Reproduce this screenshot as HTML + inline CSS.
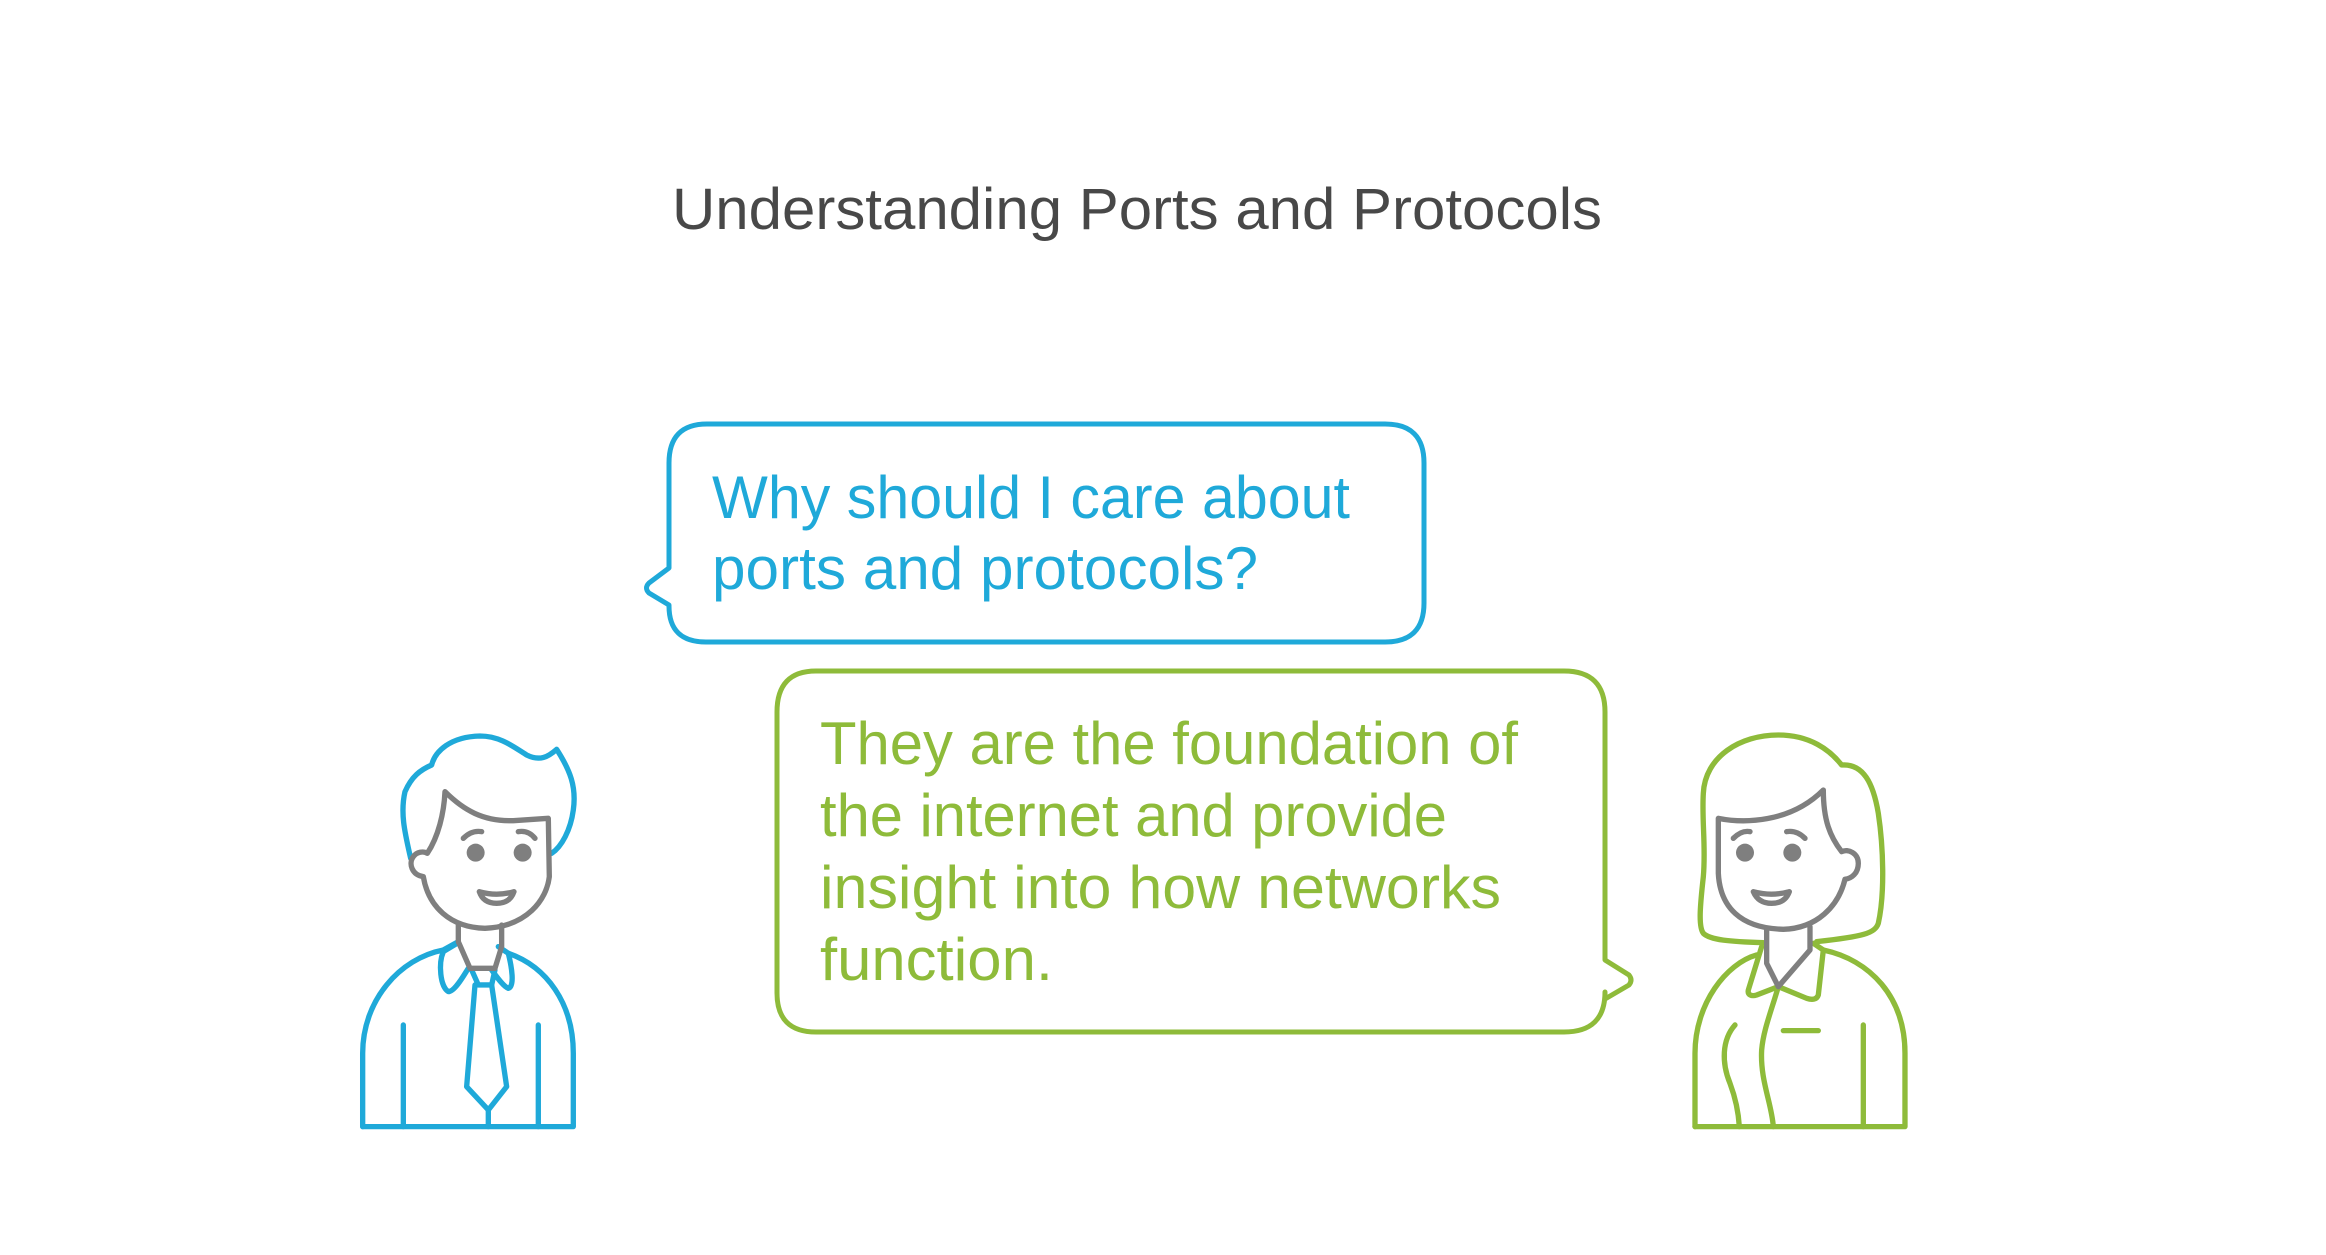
<!DOCTYPE html>
<html><head><meta charset="utf-8"><style>html,body{margin:0;padding:0;background:#fff;}svg{display:block}</style></head>
<body>
<svg width="2326" height="1255" viewBox="0 0 2326 1255" xmlns="http://www.w3.org/2000/svg" font-family="'Liberation Sans', sans-serif">
<rect width="2326" height="1255" fill="#fff"/>
<text x="672" y="229" font-size="58" fill="#484848" textLength="930" lengthAdjust="spacingAndGlyphs">Understanding Ports and Protocols</text>

<path d="M707,424 L1385,424 Q1424,424 1424,463 L1424,603 Q1424,642 1385,642 L706,642 Q669,642 669,606 L669,605 L649,593 Q644,588 649,583 L669,568 L669,463 Q669,424 707,424 Z" fill="none" stroke="#1FA9D9" stroke-width="5" stroke-linejoin="round"/>
<text font-size="60" fill="#1FA9D9"><tspan x="712" y="518" textLength="638" lengthAdjust="spacingAndGlyphs">Why should I care about</tspan></text>
<text font-size="60" fill="#1FA9D9"><tspan x="712" y="589" textLength="546" lengthAdjust="spacingAndGlyphs">ports and protocols?</tspan></text>

<path d="M816,671 L1564,671 Q1605,671 1605,712 L1605,960 L1629,975 Q1633,980 1629,985 L1605,999 L1605,992 Q1605,1032 1564,1032 L816,1032 Q777,1032 777,993 L777,712 Q777,671 816,671 Z" fill="none" stroke="#8EBB3A" stroke-width="5" stroke-linejoin="round"/>
<g font-size="60" fill="#8EBB3A">
<text x="820" y="764" textLength="698" lengthAdjust="spacingAndGlyphs">They are the foundation of</text>
<text x="820" y="836" textLength="627" lengthAdjust="spacingAndGlyphs">the internet and provide</text>
<text x="820" y="908" textLength="681" lengthAdjust="spacingAndGlyphs">insight into how networks</text>
<text x="820" y="980" textLength="233" lengthAdjust="spacingAndGlyphs">function.</text>
</g>

<!-- man -->
<g transform="translate(340,720) scale(0.3333)" fill="none" stroke-width="16" stroke-linecap="round" stroke-linejoin="round">
<g stroke="#1FA9D9">
<path d="M212,415 C195,340 180,280 195,215 C215,170 240,150 275,135 C285,95 330,50 420,48 C480,48 520,80 560,105 C600,125 625,110 650,88 C690,150 710,200 700,270 C692,330 665,380 635,400"/>
<path d="M68,1220 L700,1220 L700,1000 C700,850 620,740 505,700"/>
<path d="M68,1220 L68,1000 C68,840 180,715 310,690 L350,668"/>
<path d="M355,668 L310,695 C295,730 300,800 325,815 C345,815 375,760 385,745"/>
<path d="M475,680 L505,700 C515,740 525,800 505,805 C490,800 470,770 455,750"/>
<path d="M395,750 L415,795 L455,795 L465,750"/>
<path d="M405,795 L380,1100 L445,1170 L500,1100 L455,795"/>
<path d="M445,1170 L445,1220 M190,915 L190,1220 M595,915 L595,1220"/>
</g>
<g stroke="#7F7F7F">
<path d="M315,215 C370,270 430,305 520,302 L625,295 L628,470 C620,540 560,620 435,625 C330,622 265,560 250,470 C215,465 205,430 220,410 C230,395 250,393 262,400 C295,350 312,280 315,215 Z"/>
<path d="M370,355 Q395,330 425,335 M535,335 Q565,330 585,355"/>
<path d="M418,515 Q470,530 522,515 Q510,550 470,550 Q430,550 418,515 Z"/>
<path d="M355,615 L355,665 L390,745 L465,745 L485,680 L485,615"/>
</g>
<circle cx="407" cy="398" r="27" fill="#7F7F7F"/><circle cx="548" cy="398" r="27" fill="#7F7F7F"/>
</g>

<!-- woman -->
<g transform="translate(1690,720) scale(0.3333)" fill="none" stroke-width="16" stroke-linecap="round" stroke-linejoin="round">
<g stroke="#8EBB3A">
<path d="M220,668 C120,665 60,660 40,640 C25,620 30,560 40,470 C48,380 35,300 40,220 C45,110 150,45 265,45 C360,45 420,90 455,135 C520,130 550,190 565,280 C580,380 585,520 565,610 C555,640 520,650 380,665"/>
<path d="M15,1220 L645,1220 L645,1000 C645,830 540,720 400,690"/>
<path d="M15,1220 L15,1000 C15,850 110,730 200,705"/>
<path d="M215,680 L175,810 C172,825 185,830 200,825 L265,800"/>
<path d="M370,670 L400,690 L385,825 C380,840 365,840 350,835 L265,800"/>
<path d="M265,800 C245,870 220,930 215,990 C210,1080 245,1150 250,1220"/>
<path d="M135,915 C95,960 95,1030 120,1090 C135,1130 145,1170 148,1220"/>
<path d="M280,932 L385,932 M520,915 L520,1220"/>
</g>
<g stroke="#7F7F7F">
<path d="M85,295 C160,310 300,310 400,210 C400,300 420,350 455,395 C475,385 505,400 505,430 C505,460 485,475 465,478 C445,560 380,625 280,628 C150,625 90,560 85,460 Z"/>
<path d="M130,355 Q155,330 180,335 M290,335 Q320,330 345,355"/>
<path d="M190,515 Q245,530 298,515 Q285,550 245,550 Q205,550 190,515 Z"/>
<path d="M230,628 L230,730 L265,800 L360,690 L360,620"/>
</g>
<circle cx="165" cy="398" r="27" fill="#7F7F7F"/><circle cx="307" cy="398" r="27" fill="#7F7F7F"/>
</g>
</svg>
</body></html>
